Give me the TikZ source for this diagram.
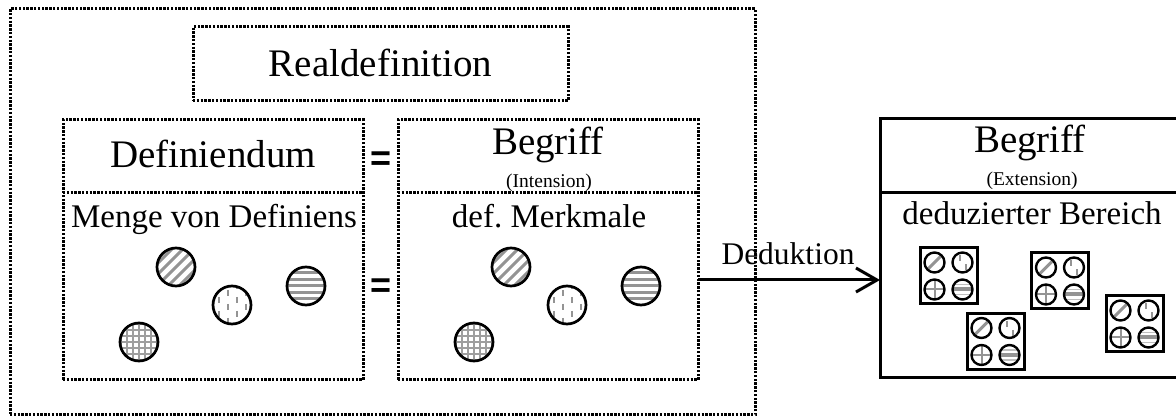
\documentclass[tikz,border=0pt]{standalone}
\usepackage{fontspec}
\setmainfont{Liberation Serif}
\newfontfamily\eqfont{Liberation Sans}
\usetikzlibrary{arrows.meta}
\frenchspacing
\tikzset{
  dotline/.style={line width=3pt, dash pattern=on 2.4pt off 1.4pt},
  dotbox/.style={draw, dotline, rectangle, inner sep=0pt, outer sep=0pt},
  solidbox/.style={draw, line width=3pt, rectangle, inner sep=0pt, outer sep=0pt},
  big/.style={font=\fontsize{39}{40}\selectfont, inner sep=0pt, anchor=base},
  mid/.style={font=\fontsize{33}{34}\selectfont, inner sep=0pt, anchor=base},
  small/.style={font=\fontsize{19.5}{20}\selectfont, inner sep=0pt, anchor=base},
  eqsign/.style={font=\eqfont\bfseries\fontsize{36}{36}\selectfont, inner sep=0pt, anchor=base},
  stripe/.style={line width=3pt, draw=black!42},
  bigc/.style={circle, draw, line width=2.7pt, minimum size=38pt, inner sep=0pt},
  smc/.style={circle, draw, line width=2.4pt, minimum size=20pt, inner sep=0pt},
  diagfill/.style={path picture={\begin{scope}[shift={(path picture bounding box.center)}]
      \foreach \i in {-33,-22,...,33} \draw[stripe] (\i-25,25) -- (\i+25,-25);
    \end{scope}}},
  horizfill/.style={path picture={\begin{scope}[shift={(path picture bounding box.center)}]
      \foreach \i in {-19.5,-13,...,20} \draw[stripe] (-25,\i) -- (25,\i);
    \end{scope}}},
  gridfill/.style={path picture={\begin{scope}[shift={(path picture bounding box.center)}]
      \foreach \i in {-18,-12,...,18} {\draw[stripe,line width=2pt,draw=black!38] (-25,\i) -- (25,\i);
        \draw[stripe,line width=2pt,draw=black!38] (\i,-25) -- (\i,25);}
    \end{scope}}},
  vdashfill/.style={path picture={\begin{scope}[shift={(path picture bounding box.center)}]
      \foreach \x/\ph in {-13.5/0,-4.5/7,4.5/0,13.5/7}
        \draw[stripe,line width=2pt,dash pattern=on 6pt off 8pt,dash phase=\ph pt] (\x,-22) -- (\x,22);
    \end{scope}}},
  sdiag/.style={path picture={\begin{scope}[shift={(path picture bounding box.center)}]
      \draw[stripe] (-10,10) -- (10,-10);
    \end{scope}}},
  svdash/.style={path picture={\begin{scope}[shift={(path picture bounding box.center)}]
      \draw[stripe,line width=2pt] (-3,-7) -- (-3,-1) (3,2) -- (3,8);
    \end{scope}}},
  scross/.style={path picture={\begin{scope}[shift={(path picture bounding box.center)}]
      \draw[stripe,line width=2pt] (-12,0) -- (12,0) (0,-12) -- (0,12);
    \end{scope}}},
  shoriz/.style={path picture={\begin{scope}[shift={(path picture bounding box.center)}]
      \draw[stripe,line width=1.5pt,draw=black!25] (-12,-5) -- (12,-5) (-12,5) -- (12,5);
      \draw[stripe,line width=4pt] (-12,0) -- (12,0);
    \end{scope}}},
}
\newcommand\smallgroup[3]{%
  \node[solidbox, minimum width=57pt, minimum height=56pt] (#1) at (#2,#3) {};
  \node[smc, sdiag] (#1a) at (#2-14,#3-13.5) {};
  \node[smc, svdash] (#1b) at (#2+14,#3-13.5) {};
  \node[smc, scross] (#1c) at (#2-14,#3+13.5) {};
  \node[smc, shoriz] (#1d) at (#2+14,#3+13.5) {};
}
\begin{document}
\begin{tikzpicture}[x=1pt,y=-1pt]
\useasboundingbox (0,0) rectangle (1176,419);
\coordinate (hdr) at (0,193);
\coordinate (ay) at (0,280);
% outer dotted box
\node[dotbox, minimum width=745pt, minimum height=406pt] (outer) at (382.5,212) {};
% Realdefinition
\node[dotbox, minimum width=375pt, minimum height=74pt] (realbox) at (380.5,64) {};
\node[big] (treal) at (380.5,77) {Realdefinition};
% Definiendum box
\node[dotbox, minimum width=300pt, minimum height=260pt] (defd) at (213,250) {};
\draw[dotline] (defd.west |- hdr) -- (defd.east |- hdr);
\node[big] (tdefd) at (213,168) {Definiendum};
\node[mid] (tmenge) at (214,228) {Menge von Definiens};
% Intension box
\node[dotbox, minimum width=300pt, minimum height=260pt] (intbox) at (548,250) {};
\draw[dotline] (intbox.west |- hdr) -- (intbox.east |- hdr);
\node[big] (tbegr1) at (548,155) {Begriff};
\node[small] (tint) at (549,188) {(Intension)};
\node[mid] (tmerk) at (549,228) {def. Merkmale};
% equals signs
\node[eqsign] (eq1) at (381,170.5) {=};
\node[eqsign] (eq2) at (381,297.5) {=};
% circles left
\node[bigc, diagfill] (l1) at (176,267) {};
\node[bigc, vdashfill] (l2) at (232,305) {};
\node[bigc, horizfill] (l3) at (306,286) {};
\node[bigc, gridfill] (l4) at (139,342) {};
% circles right
\node[bigc, diagfill] (r1) at (511,267) {};
\node[bigc, vdashfill] (r2) at (567,305) {};
\node[bigc, horizfill] (r3) at (641,286) {};
\node[bigc, gridfill] (r4) at (474,342) {};
% Extension box
\node[solidbox, minimum width=300pt, minimum height=259pt] (ext) at (1030,248.5) {};
\draw[line width=3pt] (ext.west |- hdr) -- (ext.east |- hdr);
\node[big] (tbegr2) at (1030,153) {Begriff};
\node[small] (text) at (1032,186) {(Extension)};
\node[mid] (tded) at (1032,225) {deduzierter Bereich};
\smallgroup{g1}{948.5}{276}
\smallgroup{g2}{1060}{281}
\smallgroup{g3}{995.5}{341.5}
\smallgroup{g4}{1134.5}{324}
% arrow
\draw[line width=3pt, -{Straight Barb[length=21pt,width=24pt]}] (intbox.east |- ay) -- (ext.west |- ay);
\node[font=\fontsize{31.5}{32}\selectfont, inner sep=0pt, anchor=base] (tdeduk) at (788,265) {Deduktion};
\end{tikzpicture}
\end{document}
